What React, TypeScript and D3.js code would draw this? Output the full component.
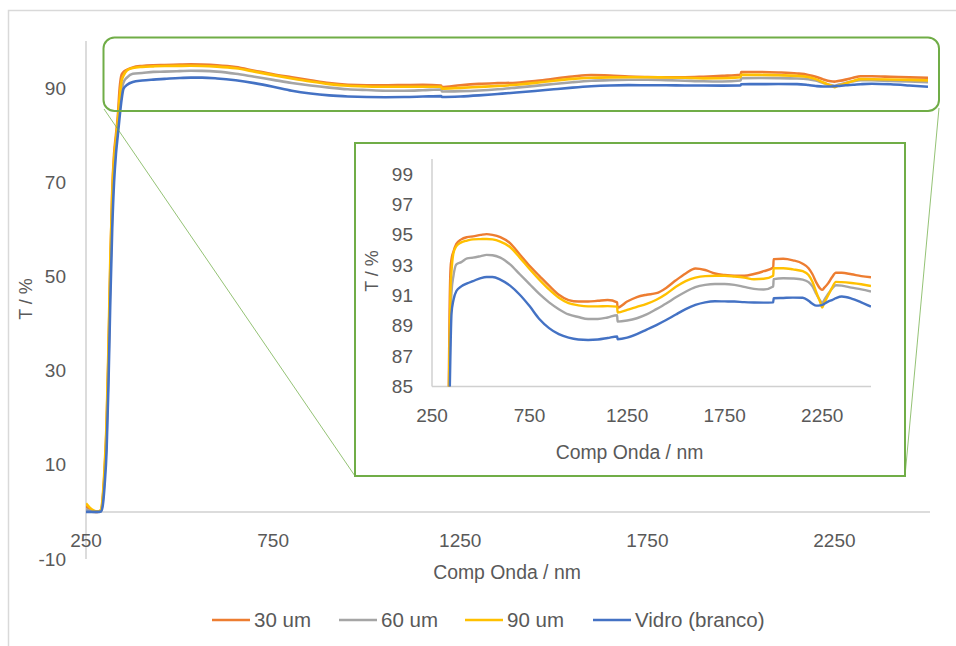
import React from 'react';
import * as d3 from 'd3';

// wavelength grid (nm) – steps at 1200 and 2000 nm are the detector changes
const wavelengths = [
  250, 260, 270, 280, 290, 295, 300, 305, 310, 315, 320, 325, 330, 335, 340, 345, 350, 360, 375, 400,
  430, 460, 500, 530, 560, 600, 650, 700, 750, 800, 850, 900, 950, 1000, 1050, 1100, 1150, 1199, 1201,
  1250, 1300, 1350, 1400, 1450, 1500, 1550, 1600, 1650, 1700, 1750, 1800, 1850, 1900, 1950, 1999, 2001,
  2050, 2100, 2150, 2180, 2200, 2220, 2240, 2250, 2260, 2280, 2300, 2320, 2350, 2400, 2450, 2500,
];

const t30 = [
  1.2, 0.5, 0.1, 0, 0.3, 3, 9, 18, 33, 52, 68, 76, 80, 84, 90, 92.8, 93.4, 93.9, 94.4, 94.7,
  94.85, 94.9, 95.0, 95.05, 95.0, 94.85, 94.45, 93.7, 92.95, 92.3, 91.65, 91.05, 90.7, 90.6, 90.6, 90.65, 90.7, 90.55, 90.2,
  90.6, 90.9, 91.05, 91.15, 91.5, 92.0, 92.45, 92.78, 92.68, 92.45, 92.35, 92.3, 92.3, 92.42, 92.6, 92.85, 93.4,
  93.42, 93.32, 93.1, 92.8, 92.4, 91.85, 91.45, 91.37, 91.5, 91.8, 92.2, 92.5, 92.5, 92.4, 92.28, 92.2,
];

const t60 = [
  0.6, 0.2, 0, 0, 0.2, 2.5, 8, 16, 31, 50, 64, 73, 78, 82, 86, 89.5, 91.2, 92.3, 93.05, 93.2,
  93.45, 93.5, 93.6, 93.68, 93.65, 93.5, 93.05, 92.4, 91.75, 91.1, 90.55, 90.1, 89.75, 89.58, 89.45, 89.45, 89.55, 89.7, 89.28,
  89.35, 89.5, 89.75, 90.1, 90.47, 90.88, 91.25, 91.55, 91.7, 91.76, 91.76, 91.7, 91.57, 91.44, 91.4, 91.6, 92.08,
  92.14, 92.12, 92.05, 91.88, 91.6, 91.1, 90.65, 90.5, 90.7, 91.1, 91.45, 91.68, 91.65, 91.52, 91.4, 91.26,
];

const t90 = [
  1.8, 0.9, 0.3, 0.05, 0.4, 3.5, 10, 19, 35, 54, 67, 75, 79, 83, 88, 91.5, 92.6, 93.8, 94.25, 94.5,
  94.62, 94.7, 94.72, 94.73, 94.7, 94.55, 94.2, 93.5, 92.75, 92.05, 91.4, 90.85, 90.5, 90.35, 90.28, 90.28, 90.3, 90.27, 89.88,
  90.05, 90.25, 90.45, 90.72, 91.1, 91.57, 91.95, 92.18, 92.28, 92.3, 92.3, 92.25, 92.18, 92.07, 92.1, 92.3, 92.8,
  92.8, 92.72, 92.6, 92.35, 91.9, 91.2, 90.55, 90.2, 90.5, 91.0, 91.5, 91.9, 91.88, 91.82, 91.74, 91.63,
];

const vidro = [
  0, 0, 0, 0, 0.1, 1.5, 6, 13, 27, 45, 60, 70, 76, 80, 84, 87.5, 89.8, 90.7, 91.3, 91.6,
  91.8, 91.95, 92.15, 92.22, 92.22, 92.05, 91.65, 91.05, 90.3, 89.45, 88.85, 88.45, 88.22, 88.1, 88.07, 88.1, 88.2, 88.3, 88.12,
  88.22, 88.45, 88.75, 89.05, 89.38, 89.75, 90.1, 90.38, 90.55, 90.62, 90.61, 90.6, 90.56, 90.54, 90.53, 90.55, 90.82,
  90.84, 90.86, 90.85, 90.65, 90.45, 90.33, 90.35, 90.38, 90.45, 90.6, 90.7, 90.82, 90.93, 90.8, 90.55, 90.27,
];

const seriesNames = ['30 um', '60 um', '90 um', 'Vidro (branco)'];
const seriesColors = ['#ED7D31', '#A5A5A5', '#FFC000', '#4472C4'];
const seriesValues = [t30, t60, t90, vidro];

const mainXTicks = [250, 750, 1250, 1750, 2250];
const mainYTicks = [-10, 10, 30, 50, 70, 90];
const insetYTicks = [85, 87, 89, 91, 93, 95, 97, 99];

const xTitle = 'Comp Onda / nm';
const yTitle = 'T / %';

const FONT = '"Liberation Sans", Arial, sans-serif';
const TEXT = '#595959';
const AXIS = '#D0D0D0';
const GREEN = '#70AD47';

const App: React.FC = () => {
  // main chart
  const x = d3.scaleLinear().domain([250, 2500]).range([86, 928]);
  const y = d3.scaleLinear().domain([-10, 100]).range([559, 41]);
  // zoomed inset
  const xi = d3.scaleLinear().domain([250, 2500]).range([432, 871]);
  const yi = d3.scaleLinear().domain([85, 100]).range([386.5, 159]);

  const mainLine = d3.line<number>()
    .x((_, i) => x(wavelengths[i]))
    .y(d => y(d))
    .curve(d3.curveMonotoneX);
  const insetLine = d3.line<number>()
    .x((_, i) => xi(wavelengths[i]))
    .y(d => yi(d))
    .curve(d3.curveMonotoneX);

  const legendX = [212, 339, 465, 593];

  return (
    <svg width={956} height={646} style={{ position: 'absolute', left: 0, top: 0, background: '#fff' }}
      fontFamily={FONT}>
      <defs>
        <clipPath id="clipMain"><rect x={86} y={41} width={842} height={518} /></clipPath>
        <clipPath id="clipInset"><rect x={432} y={159} width={439} height={227.5} /></clipPath>
      </defs>

      {/* chart frame */}
      <rect x={8.5} y={10.5} width={960} height={660} fill="#fff" stroke="#D9D9D9" strokeWidth={1.5} />

      {/* main axes */}
      <line x1={x(250)} x2={x(2500) + 2} y1={y(0)} y2={y(0)} stroke={AXIS} strokeWidth={1.5} />
      <line x1={x(250)} x2={x(250)} y1={y(100)} y2={y(-10)} stroke={AXIS} strokeWidth={1.5} />
      {mainYTicks.map(t => (
        <text key={t} x={66} y={y(t)} dy="0.35em" textAnchor="end" fontSize={19} fill={TEXT}>{t}</text>
      ))}
      {mainXTicks.map(t => (
        <text key={t} x={x(t)} y={547} textAnchor="middle" fontSize={19} fill={TEXT}>{t}</text>
      ))}
      <text x={507} y={579} textAnchor="middle" fontSize={19.4} fill={TEXT}>{xTitle}</text>
      <text transform="translate(32,299) rotate(-90)" textAnchor="middle" fontSize={18} fill={TEXT}>{yTitle}</text>

      <g clipPath="url(#clipMain)">
        {seriesValues.map((vals, k) => (
          <path key={k} d={mainLine(vals) ?? ''} fill="none" stroke={seriesColors[k]} strokeWidth={2.6}
            strokeLinejoin="round" />
        ))}
      </g>

      {/* zoom callout */}
      <rect x={103.5} y={37.5} width={835.5} height={73.5} rx={11} fill="none" stroke={GREEN} strokeWidth={2} />
      <line x1={104} y1={109} x2={355} y2={476} stroke={GREEN} strokeOpacity={0.75} strokeWidth={1} />
      <line x1={939} y1={108} x2={905} y2={476} stroke={GREEN} strokeOpacity={0.75} strokeWidth={1} />

      {/* inset */}
      <rect x={355} y={143} width={550} height={333} fill="#fff" stroke={GREEN} strokeWidth={2} />
      <line x1={xi(250)} x2={xi(2500)} y1={yi(85)} y2={yi(85)} stroke={AXIS} strokeWidth={1.5} />
      <line x1={xi(250)} x2={xi(250)} y1={yi(100)} y2={yi(85)} stroke={AXIS} strokeWidth={1.5} />
      {insetYTicks.map(t => (
        <text key={t} x={413} y={yi(t)} dy="0.35em" textAnchor="end" fontSize={19} fill={TEXT}>{t}</text>
      ))}
      {mainXTicks.map(t => (
        <text key={t} x={xi(t)} y={422} textAnchor="middle" fontSize={19} fill={TEXT}>{t}</text>
      ))}
      <text x={629.5} y={459} textAnchor="middle" fontSize={19.4} fill={TEXT}>{xTitle}</text>
      <text transform="translate(378,271) rotate(-90)" textAnchor="middle" fontSize={18} fill={TEXT}>{yTitle}</text>

      <g clipPath="url(#clipInset)">
        {seriesValues.map((vals, k) => (
          <path key={k} d={insetLine(vals) ?? ''} fill="none" stroke={seriesColors[k]} strokeWidth={2.4}
            strokeLinejoin="round" />
        ))}
      </g>

      {/* legend */}
      {seriesNames.map((name, k) => (
        <g key={name}>
          <line x1={legendX[k]} x2={legendX[k] + 38} y1={620} y2={620} stroke={seriesColors[k]} strokeWidth={2.6} />
          <text x={legendX[k] + 42} y={620} dy="0.35em" fontSize={20.5} fill={TEXT}>{name}</text>
        </g>
      ))}
    </svg>
  );
};

export default App;
